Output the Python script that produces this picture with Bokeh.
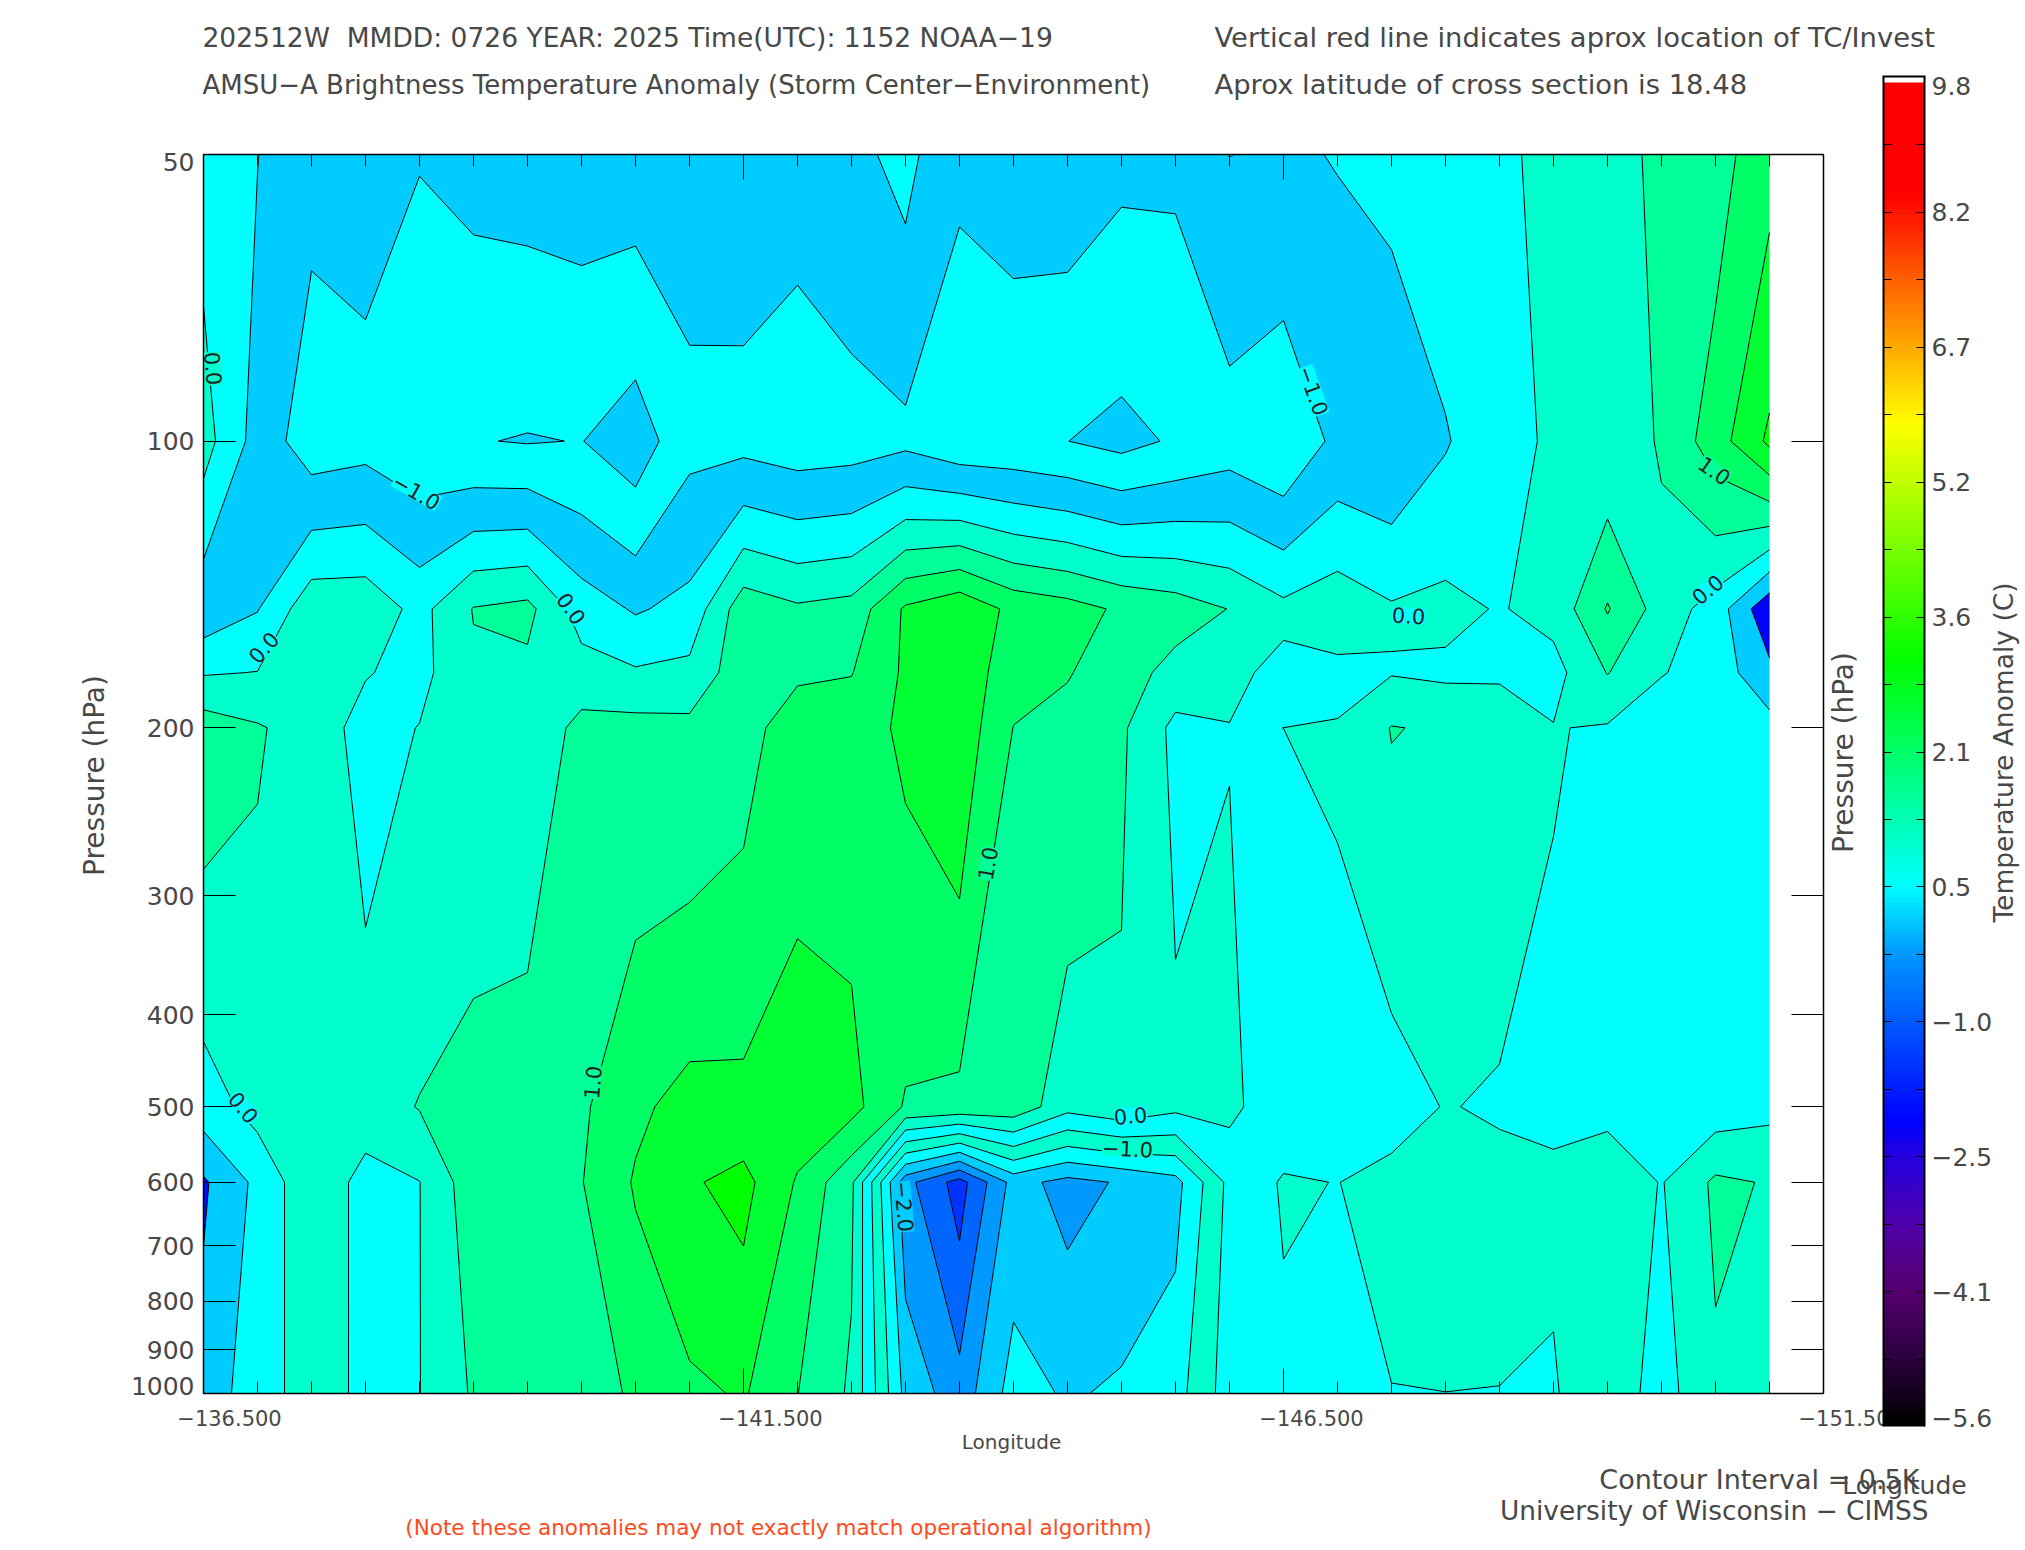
import numpy as np
from bokeh.plotting import figure
from bokeh.models import Range1d, FixedTicker, LinearAxis, LogAxis, Label, BoxAnnotation
from bokeh.embed import file_html
from bokeh.resources import INLINE

lons = [-136.5 - 0.5 * i for i in range(30)]
pressure = [50, 100, 150, 175, 200, 500, 600, 1000]

p50 = [-.16,-.49,-.87,-.83,-.98,-.87,-.826,-.783,-.74,-.816,-.773,-.838,-.628,-.36,-.91,-.79,-.756,-.897,-.92,-.495,-.56,-.48,-.344,-.2,-.2,.288,.3,.613,.79,1.343]
p100 = [.20,-.70,-1.27,-1.176,-1.35,-1.476,-1.528,-1.487,-1.79,-1.13,-1.159,-1.274,-1.229,-1.127,-1.38,-1.39,-1.496,-1.655,-1.438,-1.25,-1.451,-.864,-.948,-.544,-.124,.053,.12,.56,1.262,2.1]
p150 = [-.86,-.526,.33,.34,-.16,.524,.64,-.232,-.554,-.35,.8,.576,.679,1.573,1.89,1.365,1.2,.92,.752,.486,.126,.304,.056,.136,-.034,.166,1.04,.28,-.22,-1.4]
p175 = [-.04,.012,.30,.03,-.15,.42,.38,.21,.06,.14,.805,.92,.98,1.58,1.86,1.18,1.03,.75,.31,.12,-.14,-.13,-.03,-.097,-.1,-.17,.52,.03,-.23,-.87]
p200 = [.78,.55,.27,-.18,.015,.317,.12,.653,.676,.634,.81,1.269,1.28,1.585,1.827,.99,.855,.58,-.13,-.014,.0003,.028,.52,.44,.41,.02,-.045,-.354,-.25,-.31]
p500 = [-.25,.18,.30,.255,.525,.614,.826,.92,1.40,1.68,1.653,1.79,1.664,.95,.87,.837,.17,.39,.13,.125,-.35,-.103,-.264,.031,-.08,-.08,-.177,-.15,-.273,-.136]
p600 = [-1.07,-.38,.38,-.175,-.01,.80,.85,.98,1.55,1.945,2.15,1.45,.6,-2.336,-3.21,-1.82,-2.16,-1.95,-1.67,-.36,.05,-.01,.18,.3,.206,.068,.4,-.03,.59,.466]
p1000 = [-.79,-.23,.23,-.106,-.01,.56,.74,.80,1.063,1.395,1.55,1.01,.42,-1.65,-2.295,-1.29,-1.56,-1.416,-1.2,-.25,-.113,-.15,-.012,-.003,-.01,-.036,.3,-.2,.42,.3]

fill_levels = [-4, -3, -2.5, -2, -1.5, -1, -.5, 0, .5, 1, 1.5, 2, 2.5]
fill_colors = ["#0033FF", "#0066FF", "#0099FF", "#00CCFF", "#00FFFF", "#00CCFF", "#00FFFF",
               "#00FFCC", "#00FF99", "#00FF66", "#00FF33", "#00FF00"]
line_levels = [-3, -2.5, -2, -1.5, -1, -.5, 0, .5, 1, 1.5, 2]

x_labels = ["\u2212136.500", "\u2212141.500", "\u2212146.500", "\u2212151.50"]
y_ticks = [50, 100, 200, 300, 400, 500, 600, 700, 800, 900, 1000]
bar_labels = ["9.8", "8.2", "6.7", "5.2", "3.6", "2.1", "0.5", "\u22121.0", "\u22122.5", "\u22124.1", "\u22125.6"]
bar_stops_v = [-5.6, -4.8, -4.06, -3.3, -2.5, -2.12, -0.2, 0.6, 3.2, 5.92, 8.56, 9.8]
bar_stops_r = [0, 45, 85, 80, 35, 0, 0, 0, 0, 255, 255, 255]
bar_stops_g = [0, 0, 0, 0, 0, 0, 150, 255, 255, 255, 0, 0]
bar_stops_b = [0, 65, 110, 170, 225, 255, 255, 255, 0, 0, 0, 0]

# label text, page x, page y, angle, background
contour_labels = [
    ("0.0", 213, 368, -85, "#00FFCC"),
    ("\u22121.0", 416, 491, -30, "#00FFFF"),
    ("0.0", 263, 647, 48, "#00FFFF"),
    ("0.0", 571, 608, -55, "#00FFFF"),
    ("1.0", 987, 863, 80, "#00FF99"),
    ("\u22121.0", 1313, 390, -70, "#00FFFF"),
    ("1.0", 1714, 470, -35, "#00FF99"),
    ("0.0", 1408, 615, -3, "#00FFFF"),
    ("0.0", 1707, 589, 40, "#00FFFF"),
    ("1.0", 592, 1082, 85, "#00FF99"),
    ("0.0", 243, 1107, -50, "#00FFFF"),
    ("0.0", 1130, 1115, 5, "#00FFFF"),
    ("\u22121.0", 1127, 1148, -3, "#00FFCC"),
    ("\u22122.0", 904, 1206, -85, "#00CCFF"),
]

FONT = "DejaVu Sans"
INK = "#484848"

CW, CH = 2024, 1549
FL, FW, FT, FH = 203, 1620, 154, 1239
lon_per_px = -15.0 / FW
px_per_dec = FH / np.log10(20.0)
x0 = -136.5 - FL * lon_per_px
x1 = -136.5 + (CW - FL) * lon_per_px
y_top = 50 * 10 ** (-FT / px_per_dec)
y_bot = 50 * 10 ** ((CH - FT) / px_per_dec)

p = figure(width=CW, height=CH, min_border=0, x_range=Range1d(x0, x1),
           y_range=Range1d(y_bot, y_top), y_axis_type="log", output_backend="svg",
           toolbar_location=None, background_fill_color="white", border_fill_color="white")
p.grid.visible = False
p.outline_line_color = None

lon_a = np.array(lons)[::-1]
pr = np.array(pressure, dtype=float)
Z = np.array([p50, p100, p150, p175, p200, p500, p600, p1000])[:, ::-1]
n = len(lons) - 1

def sub(c0, c1, r0, r1):
    ia, ib = n - c1, n - c0 + 1
    return lon_a[ia:ib], pr[r0:r1 + 1], Z[r0:r1 + 1, ia:ib]

p.contour(lon_a, pr, Z, fill_levels, fill_color=fill_colors)
xs, ys, zs = sub(10, 21, 5, 7)
p.contour(xs, ys, zs, [-1, -.5], fill_color=["#00FFCC"])
xs, ys, zs = sub(0, 1, 5, 7)
p.contour(xs, ys, zs, [-1.5, -1], fill_color=["#0010FF"])
xs, ys, zs = sub(28, 29, 1, 4)
p.contour(xs, ys, zs, [-1.5, -1], fill_color=["#0000FF"])
p.contour(lon_a, pr, Z, line_levels, line_color="black", line_width=1)

major_x = [-136.5, -141.5, -146.5, -151.5]
minor_x = [-136.5 - 0.5 * i for i in range(31)]


def style_x(ax, loc):
    ax.fixed_location = loc
    ax.bounds = (-151.5, -136.5)
    ax.ticker = FixedTicker(ticks=major_x, minor_ticks=minor_x)
    ax.major_tick_in = 25
    ax.major_tick_out = 0
    ax.minor_tick_in = 12
    ax.minor_tick_out = 0
    ax.major_tick_line_color = "black"
    ax.minor_tick_line_color = "black"
    ax.axis_line_color = "black"
    ax.axis_line_width = 1.5
    ax.major_label_overrides = {v: "" for v in major_x}


def style_y(ax, loc):
    ax.fixed_location = loc
    ax.bounds = (50, 1000)
    ax.ticker = FixedTicker(ticks=y_ticks, minor_ticks=[])
    ax.major_tick_in = 32
    ax.major_tick_out = 0
    ax.minor_tick_line_color = None
    ax.major_tick_line_color = "black"
    ax.axis_line_color = "black"
    ax.axis_line_width = 1.5
    ax.major_label_overrides = {v: ("" if v in (50, 1000) else str(v)) for v in y_ticks}


style_x(p.xaxis[0], 1000)
top = LinearAxis()
style_x(top, 50)
p.add_layout(top, "above")
style_y(p.yaxis[0], -136.5)
p.yaxis[0].major_label_text_font = FONT
p.yaxis[0].major_label_text_font_size = "25px"
p.yaxis[0].major_label_text_color = INK
p.yaxis[0].major_label_standoff = 9
right = LogAxis()
style_y(right, -151.5)
right.major_label_overrides = {v: "" for v in y_ticks}
p.add_layout(right, "right")


def lab(txt, x, y, size, align="left", angle=0, color=INK, bg=None):
    p.add_layout(Label(x=x, y=y, x_units="canvas", y_units="canvas", text=txt, level="overlay",
                       text_font=FONT, text_font_size=f"{size}px", text_color=color,
                       text_align=align, text_baseline="middle", angle=angle, angle_units="deg",
                       background_fill_color=bg))


for t, x, y, a, bg in contour_labels:
    lab(t, x, y, 21, "center", a, "#222222", bg)

lab("50", 194, 161, 25, "right")
lab("1000", 194, 1385, 25, "right")
lab("202512W\u00a0\u00a0MMDD: 0726 YEAR: 2025 Time(UTC): 1152 NOAA\u221219", 202, 37, 26.5)
lab("AMSU\u2212A Brightness Temperature Anomaly (Storm Center\u2212Environment)", 202, 84, 26)
lab("Vertical red line indicates aprox location of TC/Invest", 1214, 37, 27.4)
lab("Aprox latitude of cross section is 18.48", 1214, 84, 27.4)
lab("Pressure (hPa)", 94, 775, 28, "center", 90)
lab("Pressure (hPa)", 1843, 752, 28, "center", 90)
lab("Temperature Anomaly (C)", 2003, 752, 26.5, "center", 90)
lab("Longitude", 1011, 1441, 20, "center")
lab("Contour Interval = 0.5K", 1919, 1479, 27, "right")
lab("Longitude", 1904, 1485, 25, "center")
lab("University of Wisconsin \u2212 CIMSS", 1928, 1510, 26.4, "right")
lab("(Note these anomalies may not exactly match operational algorithm)", 778, 1527, 21.5, "center",
    color="#FF4A20")

for t, cx in zip(x_labels, [229, 770, 1311]):
    lab(t, cx, 1417, 21, "center")
lab(x_labels[3], 1798, 1417, 21, "left")


def box(x0, x1, y0, y1, color):
    p.add_layout(BoxAnnotation(left=x0, right=x1, top=y0, bottom=y1, level="overlay",
                               left_units="canvas", right_units="canvas",
                               top_units="canvas", bottom_units="canvas",
                               fill_color=color, fill_alpha=1, line_color=None))


BX0, BX1, BY0, BY1 = 1883, 1924, 82, 1426
vals = np.linspace(bar_stops_v[0], bar_stops_v[-1], 256)
rr = np.interp(vals, bar_stops_v, bar_stops_r)
gg = np.interp(vals, bar_stops_v, bar_stops_g)
bb = np.interp(vals, bar_stops_v, bar_stops_b)
edges = np.round(np.linspace(BY1, BY0, 257))
for i in range(256):
    col = "#%02x%02x%02x" % (int(rr[i]), int(gg[i]), int(bb[i]))
    box(BX0, BX1, edges[i + 1], min(edges[i] + 1, BY1), col)
box(BX0 - 1, BX0 + 1, 76, BY1, "black")
box(BX1 - 1, BX1 + 1, 76, BY1, "black")
box(BX0 - 1, BX1 + 1, 75, 77, "black")
for k in range(21):
    ty = round(77 + k * 67.45)
    if 0 < k < 20:
        box(BX0, BX0 + 8, ty - 0.5, ty + 0.5, "black")
        box(BX1 - 8, BX1, ty - 0.5, ty + 0.5, "black")
for k, t in enumerate(bar_labels):
    ty = 77 + 2 * k * 67.45
    if k == 0:
        ty = 85
    if k == 10:
        ty = 1417
    lab(t, 1931, ty, 25)

open("out.html", "w").write(file_html(p, INLINE))
